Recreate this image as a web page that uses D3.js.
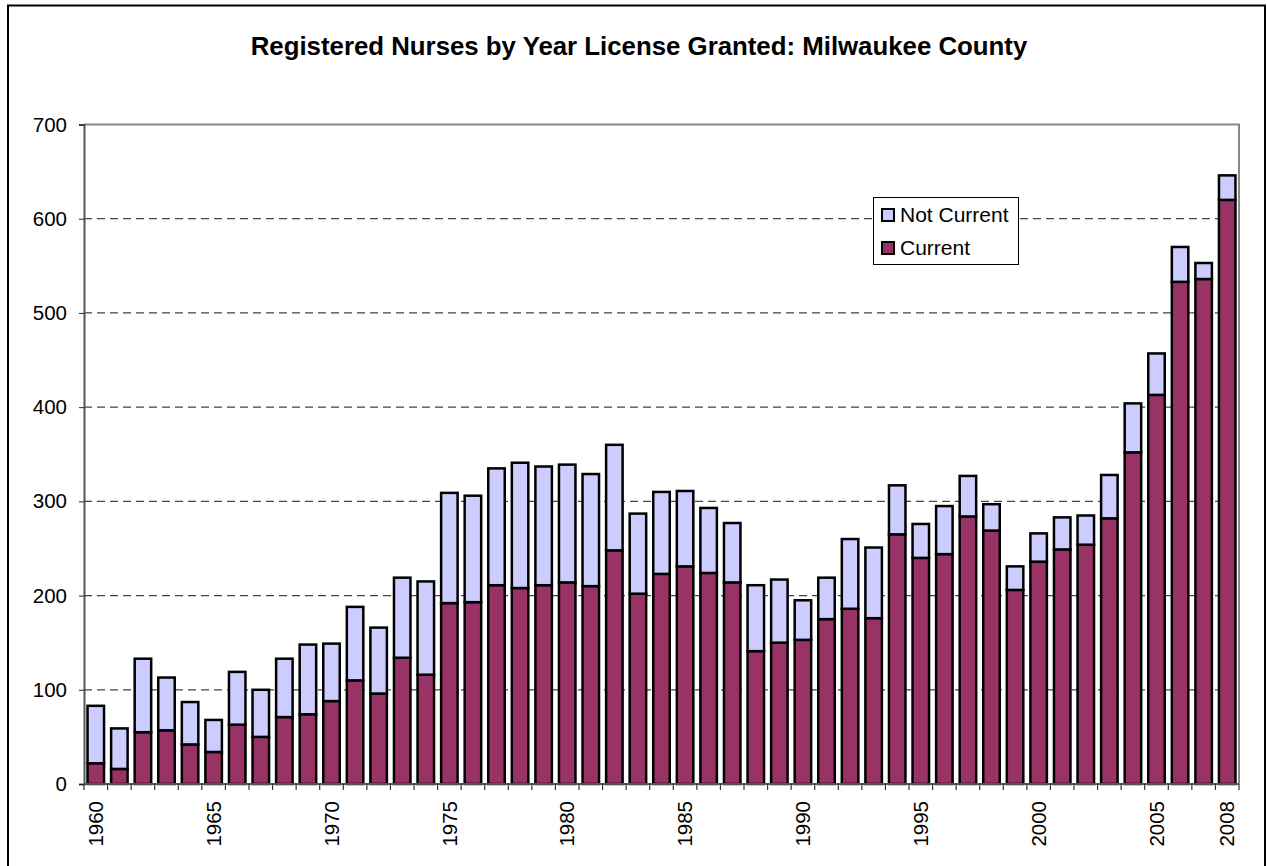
<!DOCTYPE html>
<html>
<head>
<meta charset="utf-8">
<script src="https://cdn.jsdelivr.net/npm/d3@7"></script>
<style>
  body { margin: 0; background: #fff; }
  text { font-family: Arial, "Liberation Sans", sans-serif; }
</style>
</head>
<body>
<svg id="chart" width="1267" height="866"></svg>
<script>
// years the license was granted
const years = d3.range(1960, 2009);

// nurses whose license is still current
const current = [22, 16, 55, 57, 42, 34, 63, 50, 71, 74,
  88, 110, 96, 134, 116, 192, 193, 211, 208, 211,
  214, 210, 248, 202, 223, 231, 224, 214, 141, 150,
  153, 175, 186, 176, 265, 240, 244, 284, 269, 206,
  236, 249, 254, 282, 352, 413, 533, 536, 620];

// total nurses licensed in that year
const total = [83, 59, 133, 113, 87, 68, 119, 100, 133, 148,
  149, 188, 166, 219, 215, 309, 306, 335, 341, 337,
  339, 329, 360, 287, 310, 311, 293, 277, 211, 217,
  195, 219, 260, 251, 317, 276, 295, 327, 297, 231,
  266, 283, 285, 328, 404, 457, 570, 553, 646];

const notCurrent = total.map((t, i) => t - current[i]);

const yTicks = [0, 100, 200, 300, 400, 500, 600, 700];
const labelYears = [1960, 1965, 1970, 1975, 1980, 1985, 1990, 1995, 2000, 2005, 2008];

const seriesNames = ["Not Current", "Current"];
const colors = { "Current": "#993366", "Not Current": "#CCCCFF" };

const svg = d3.select("#chart");

// outer frame
svg.append("rect")
  .attr("x", 8).attr("y", 5.5)
  .attr("width", 1257).attr("height", 900)
  .attr("fill", "#fff")
  .attr("stroke", "#000")
  .attr("stroke-width", 2);

const plotLeft = 84, plotRight = 1239, plotTop = 124.5, plotBottom = 784;

const x = d3.scaleBand()
  .domain(years)
  .range([plotLeft, plotRight])
  .paddingInner(0.3)
  .paddingOuter(0.15);

const y = d3.scaleLinear()
  .domain([0, 700])
  .range([plotBottom, plotTop]);

// title
svg.append("text")
  .attr("x", 639)
  .attr("y", 55)
  .attr("text-anchor", "middle")
  .style("font-size", "25.8px")
  .style("font-weight", "bold")
  .text("Registered Nurses by Year License Granted: Milwaukee County");

// gridlines
svg.append("g")
  .selectAll("line")
  .data(yTicks.filter(d => d > 0 && d < 700))
  .enter().append("line")
  .attr("x1", plotLeft).attr("x2", plotRight)
  .attr("y1", d => y(d)).attr("y2", d => y(d))
  .attr("stroke", "#444")
  .attr("stroke-width", 1.2)
  .attr("stroke-dasharray", "8,5");

// plot area border (top/right)
svg.append("path")
  .attr("d", `M${plotLeft},${plotTop}H${plotRight}V${plotBottom}`)
  .attr("fill", "none")
  .attr("stroke", "#888")
  .attr("stroke-width", 2);

// stacked bars
const stackData = years.map((yr, i) => ({ year: yr, "Current": current[i], "Not Current": notCurrent[i] }));
const stack = d3.stack().keys(["Current", "Not Current"]);
const layers = stack(stackData);

svg.append("g")
  .selectAll("g")
  .data(layers)
  .enter().append("g")
  .attr("fill", d => colors[d.key])
  .selectAll("rect")
  .data(d => d)
  .enter().append("rect")
  .attr("x", d => x(d.data.year))
  .attr("y", d => y(d[1]))
  .attr("width", x.bandwidth())
  .attr("height", d => y(d[0]) - y(d[1]))
  .attr("stroke", "#000")
  .attr("stroke-width", 2.5);

// y axis
const yAxis = svg.append("g")
  .attr("transform", `translate(${plotLeft},0)`)
  .call(d3.axisLeft(y).tickValues(yTicks).tickSize(5).tickPadding(12).tickFormat(d3.format("d")));
yAxis.select(".domain").attr("stroke", "#555").attr("stroke-width", 2);
yAxis.selectAll(".tick line").attr("stroke", "#222");
yAxis.selectAll(".tick text")
  .style("font-size", "20.5px")
  .attr("fill", "#000");

// x axis: ticks at band boundaries
const step = x.step();
const boundaries = years.map(yr => x(yr) - (step - x.bandwidth()) / 2).concat([plotRight]);
const xAxis = svg.append("g");
xAxis.append("line")
  .attr("x1", plotLeft).attr("x2", plotRight)
  .attr("y1", plotBottom).attr("y2", plotBottom)
  .attr("stroke", "#555")
  .attr("stroke-width", 2);
xAxis.selectAll(".xt")
  .data(boundaries)
  .enter().append("line")
  .attr("class", "xt")
  .attr("x1", d => d).attr("x2", d => d)
  .attr("y1", plotBottom).attr("y2", plotBottom + 6)
  .attr("stroke", "#333")
  .attr("stroke-width", 1.2);
xAxis.selectAll(".xl")
  .data(labelYears)
  .enter().append("text")
  .attr("class", "xl")
  .attr("transform", d => `translate(${x(d) + x.bandwidth() / 2},801) rotate(-90)`)
  .attr("text-anchor", "end")
  .attr("dy", "0.35em")
  .style("font-size", "20.5px")
  .text(d => d);

// legend
const legend = svg.append("g");
legend.append("rect")
  .attr("x", 873.5).attr("y", 197.5)
  .attr("width", 145).attr("height", 67)
  .attr("fill", "#fff")
  .attr("stroke", "#000")
  .attr("stroke-width", 1);
seriesNames.forEach((name, i) => {
  legend.append("rect")
    .attr("x", 882).attr("y", 209 + i * 33)
    .attr("width", 12).attr("height", 12)
    .attr("fill", colors[name])
    .attr("stroke", "#000")
    .attr("stroke-width", 2);
  legend.append("text")
    .attr("x", 900).attr("y", 222 + i * 33)
    .style("font-size", "21px")
    .text(name);
});
</script>
</body>
</html>
